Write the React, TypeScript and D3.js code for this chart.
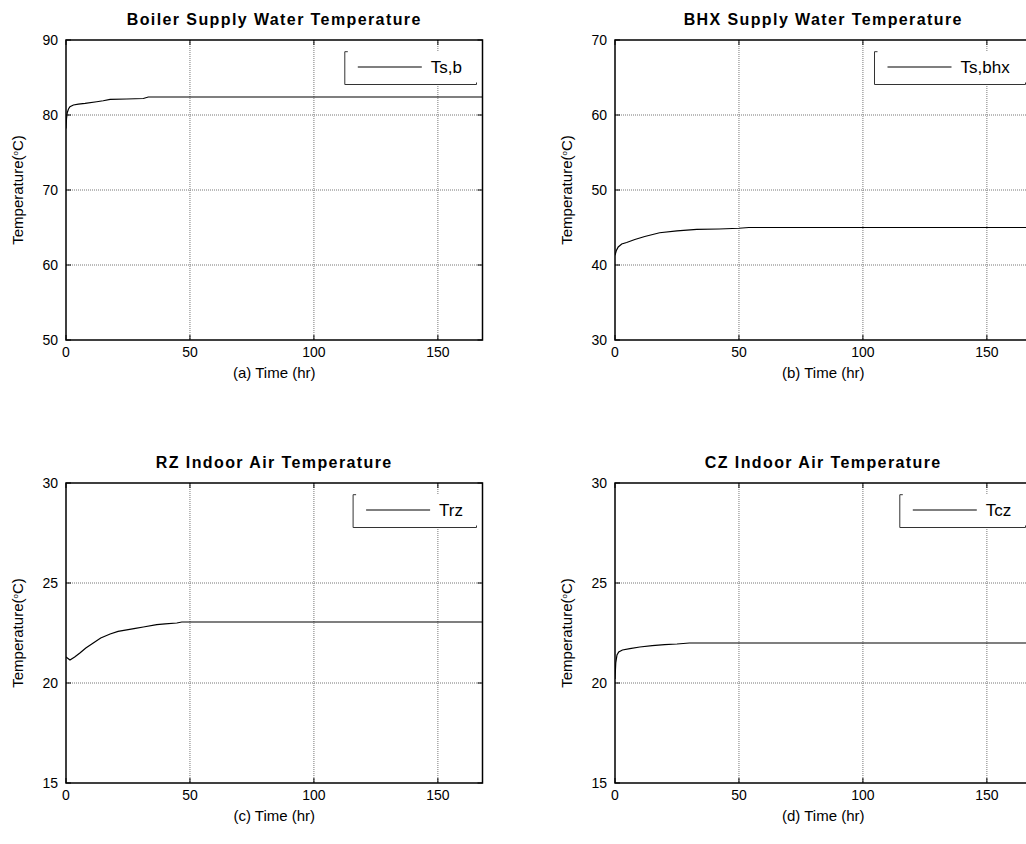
import React from 'react';
import * as d3 from 'd3';

// Shared time axis (one week of simulation, hours)
const timeMax = 168;
const timeTicks = [0, 50, 100, 150];

// (a) Boiler supply water temperature
const boilerTime = [0, 0.2, 0.5, 1, 1.6, 3, 5, 7.7, 12.4, 15, 17.8, 24.5, 31.2, 33.2, 168];
const boilerTemp = [78.2, 79.5, 80.3, 80.8, 81.1, 81.33, 81.45, 81.55, 81.77, 81.9, 82.08, 82.13, 82.2, 82.4, 82.4];

// (b) BHX supply water temperature
const bhxTime = [0, 0.5, 1.3, 2.7, 4.7, 8, 12, 18, 25, 33, 42, 50, 54, 168];
const bhxTemp = [41.3, 41.9, 42.4, 42.8, 43.0, 43.4, 43.8, 44.3, 44.55, 44.75, 44.8, 44.9, 45.0, 45.0];

// (c) RZ indoor air temperature
const rzTime = [0, 1.6, 3.5, 5.6, 8, 11, 14, 17.8, 21, 24.5, 28, 31.2, 36.6, 40, 44.7, 46.7, 168];
const rzTemp = [21.3, 21.15, 21.3, 21.5, 21.75, 22.0, 22.25, 22.45, 22.58, 22.66, 22.73, 22.8, 22.92, 22.96, 23.0, 23.05, 23.05];

// (d) CZ indoor air temperature
const czTime = [0, 0.3, 0.8, 1.5, 3, 6, 10, 15, 20, 25, 30, 168];
const czTemp = [20.2, 21.0, 21.4, 21.55, 21.65, 21.72, 21.8, 21.87, 21.92, 21.95, 22.0, 22.0];

const titles = [
  'Boiler Supply Water Temperature',
  'BHX Supply Water Temperature',
  'RZ Indoor Air Temperature',
  'CZ Indoor Air Temperature',
];
const xLabels = ['(a) Time (hr)', '(b) Time (hr)', '(c) Time (hr)', '(d) Time (hr)'];
const legendLabels = ['Ts,b', 'Ts,bhx', 'Trz', 'Tcz'];
const yDomains: [number, number][] = [[50, 90], [30, 70], [15, 30], [15, 30]];
const yTickSets = [
  [50, 60, 70, 80, 90],
  [30, 40, 50, 60, 70],
  [15, 20, 25, 30],
  [15, 20, 25, 30],
];
const series = [
  { t: boilerTime, v: boilerTemp },
  { t: bhxTime, v: bhxTemp },
  { t: rzTime, v: rzTemp },
  { t: czTime, v: czTemp },
];

// Layout
const W = 1026;
const H = 844;
const colX = [66, 615];
const rowY = [40, 483];
const plotW = 416.5;
const plotH = 300;
const legendW = [131.7, 151, 123.4, 125.7];

const FONT = "Arial, 'Liberation Sans', sans-serif";

function Panel({ i }: { i: number }) {
  const x0 = colX[i % 2];
  const y0 = rowY[Math.floor(i / 2)];
  const x = d3.scaleLinear().domain([0, timeMax]).range([x0, x0 + plotW]);
  const y = d3.scaleLinear().domain(yDomains[i]).range([y0 + plotH, y0]);
  const s = series[i];
  const pts: [number, number][] = s.t.map((t, k) => [t, s.v[k]]);
  const line = d3
    .line<[number, number]>()
    .x((d) => x(d[0]))
    .y((d) => y(d[1]));
  const yTicks = yTickSets[i];
  const tickLen = 5;
  const right = x0 + plotW;
  const bottom = y0 + plotH;
  const cx = x0 + plotW / 2;
  const cy = y0 + plotH / 2;

  // legend box
  const lw = legendW[i];
  const lRight = right - 6;
  const lLeft = lRight - lw;
  const lTop = y0 + 11.7;
  const lBot = y0 + 44.5;
  const lMid = y0 + 27;

  return (
    <g>
      <defs>
        <clipPath id={`clip${i}`}>
          <rect x={x0} y={y0} width={plotW} height={plotH} />
        </clipPath>
      </defs>
      <rect x={x0} y={y0} width={plotW} height={plotH} fill="#fff" />
      {/* dotted grid */}
      {timeTicks
        .filter((t) => t > 0)
        .map((t) => (
          <line key={`gx${t}`} x1={x(t)} x2={x(t)} y1={y0} y2={bottom} stroke="#777" strokeWidth={1} strokeDasharray="1,1" />
        ))}
      {yTicks
        .filter((v) => v > yDomains[i][0] && v < yDomains[i][1])
        .map((v) => (
          <line key={`gy${v}`} x1={x0} x2={right} y1={y(v)} y2={y(v)} stroke="#777" strokeWidth={1} strokeDasharray="1,1" />
        ))}
      {/* data */}
      <path d={line(pts) || ''} fill="none" stroke="#000" strokeWidth={1.2} clipPath={`url(#clip${i})`} />
      {/* axes box */}
      <rect x={x0} y={y0} width={plotW} height={plotH} fill="none" stroke="#000" strokeWidth={1.5} />
      {/* inward ticks */}
      {timeTicks.map((t) => (
        <g key={`tx${t}`}>
          <line x1={x(t)} x2={x(t)} y1={bottom} y2={bottom - tickLen} stroke="#000" />
          <line x1={x(t)} x2={x(t)} y1={y0} y2={y0 + tickLen} stroke="#000" />
          <text x={x(t)} y={bottom + 17} textAnchor="middle" fontFamily={FONT} fontSize={14}>
            {t}
          </text>
        </g>
      ))}
      {yTicks.map((v) => (
        <g key={`ty${v}`}>
          <line x1={x0} x2={x0 + tickLen} y1={y(v)} y2={y(v)} stroke="#000" />
          <line x1={right} x2={right - tickLen} y1={y(v)} y2={y(v)} stroke="#000" />
          <text x={x0 - 8} y={y(v) + 5} textAnchor="end" fontFamily={FONT} fontSize={14}>
            {v}
          </text>
        </g>
      ))}
      {/* title */}
      <text x={cx} y={y0 - 15} textAnchor="middle" fontFamily={FONT} fontSize={16} fontWeight="bold" letterSpacing={1.4}>
        {titles[i]}
      </text>
      {/* x label */}
      <text x={cx} y={bottom + 38} textAnchor="middle" fontFamily={FONT} fontSize={15}>
        {xLabels[i]}
      </text>
      {/* y label */}
      <text
        transform={`translate(${x0 - 43},${cy}) rotate(-90)`}
        textAnchor="middle"
        fontFamily={FONT}
        fontSize={15}
      >
        Temperature(
        <tspan fontSize={8} dy={-5}>
          o
        </tspan>
        <tspan dy={5}>C)</tspan>
      </text>
      {/* legend */}
      <g>
        <rect x={lLeft} y={lTop} width={lw} height={lBot - lTop} fill="#fff" />
        <line x1={lLeft} x2={lLeft} y1={lTop} y2={lBot} stroke="#333" />
        <line x1={lLeft} x2={lRight} y1={lBot} y2={lBot} stroke="#333" />
        <line x1={lLeft} x2={lLeft + 3} y1={lTop} y2={lTop} stroke="#333" />
        <line x1={lRight} x2={lRight} y1={lBot - 2} y2={lBot} stroke="#333" />
        <line x1={lLeft + 13} x2={lLeft + 77} y1={lMid} y2={lMid} stroke="#000" strokeWidth={1.2} />
        <text x={lLeft + 86} y={lMid + 6} fontFamily={FONT} fontSize={17}>
          {legendLabels[i]}
        </text>
      </g>
    </g>
  );
}

export default function App() {
  return (
    <svg
      width={W}
      height={H}
      viewBox={`0 0 ${W} ${H}`}
      style={{ position: 'absolute', left: 0, top: 0, background: '#fff' }}
    >
      <rect width={W} height={H} fill="#fff" />
      {[0, 1, 2, 3].map((i) => (
        <Panel key={i} i={i} />
      ))}
    </svg>
  );
}
